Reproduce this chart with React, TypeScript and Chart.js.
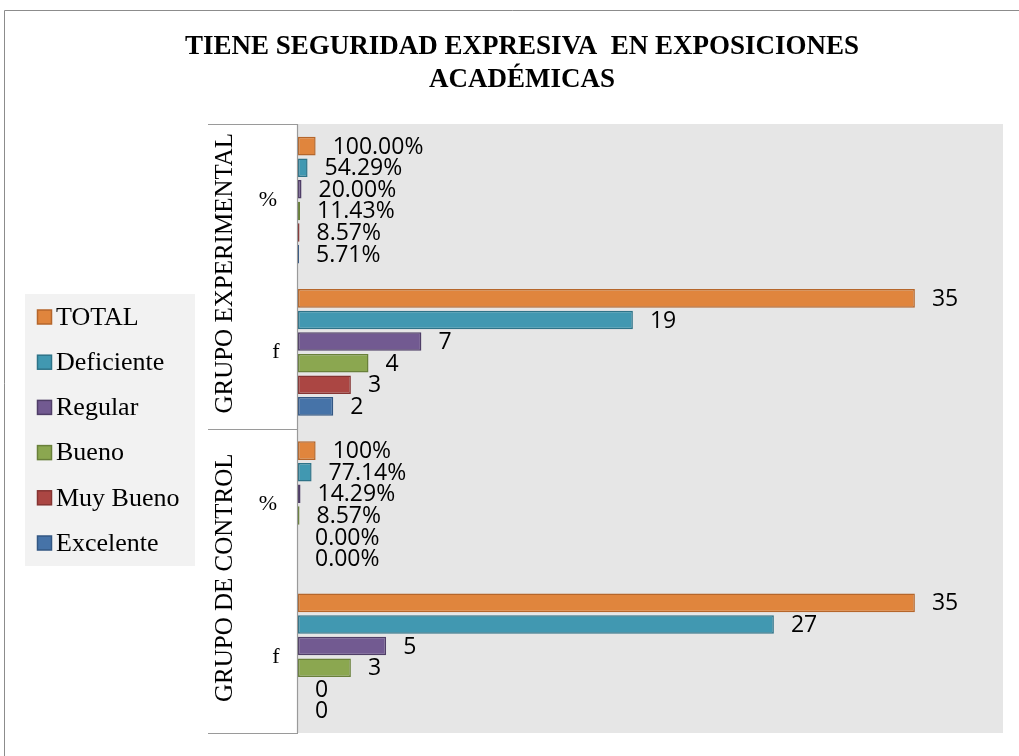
import React, { useEffect, useRef } from "react";
import { Chart, registerables } from "chart.js";

Chart.register(...registerables);

const TITLE_LINES = ["TIENE SEGURIDAD EXPRESIVA  EN EXPOSICIONES", "ACADÉMICAS"];
const GROUPS = ["GRUPO EXPERIMENTAL", "GRUPO DE CONTROL"];
const CATEGORIES = ["%", "f", "%", "f"];
const SERIES = ["TOTAL", "Deficiente", "Regular", "Bueno", "Muy Bueno", "Excelente"];

const TOTAL = [1, 35, 1, 35];
const DEFICIENTE = [0.5429, 19, 0.7714, 27];
const REGULAR = [0.2, 7, 0.1429, 5];
const BUENO = [0.1143, 4, 0.0857, 3];
const MUY_BUENO = [0.0857, 3, 0, 0];
const EXCELENTE = [0.0571, 2, 0, 0];

const TOTAL_LABELS = ["100.00%", "35", "100%", "35"];
const DEFICIENTE_LABELS = ["54.29%", "19", "77.14%", "27"];
const REGULAR_LABELS = ["20.00%", "7", "14.29%", "5"];
const BUENO_LABELS = ["11.43%", "4", "8.57%", "3"];
const MUY_BUENO_LABELS = ["8.57%", "3", "0.00%", "0"];
const EXCELENTE_LABELS = ["5.71%", "2", "0.00%", "0"];

const X_MAX = 40;

const FILLS = ["#E0853D", "#4198B1", "#725A91", "#8BA750", "#AB4643", "#4673A8"];
const BORDERS = ["#B5662B", "#2E7388", "#4F3E67", "#69803A", "#853432", "#335783"];

const VALUES = [TOTAL, DEFICIENTE, REGULAR, BUENO, MUY_BUENO, EXCELENTE];
const LABELS = [TOTAL_LABELS, DEFICIENTE_LABELS, REGULAR_LABELS, BUENO_LABELS, MUY_BUENO_LABELS, EXCELENTE_LABELS];

const SERIF = "'Liberation Serif', 'Times New Roman', serif";
const SANS = "'Open Sans', 'Liberation Sans', sans-serif";

const decorPlugin = {
  id: "decor",
  beforeDraw(chart: any) {
    const { ctx, chartArea, width, height } = chart;
    ctx.save();
    ctx.fillStyle = "#ffffff";
    ctx.fillRect(0, 0, width, height);
    ctx.strokeStyle = "#8c8c8c";
    ctx.lineWidth = 1;
    ctx.beginPath();
    ctx.moveTo(4.5, height + 2);
    ctx.lineTo(4.5, 10.5);
    ctx.lineTo(width + 2, 10.5);
    ctx.stroke();
    ctx.fillStyle = "#e6e6e6";
    ctx.fillRect(chartArea.left, chartArea.top, chartArea.right - chartArea.left, chartArea.bottom - chartArea.top);
    ctx.restore();
  },
  afterDraw(chart: any) {
    const { ctx, chartArea } = chart;
    const y = chart.scales.y;
    ctx.save();
    ctx.fillStyle = "#000";
    ctx.font = `bold 27px ${SERIF}`;
    ctx.textAlign = "center";
    ctx.textBaseline = "middle";
    TITLE_LINES.forEach((t, i) => ctx.fillText(t, 522, 47 + i * 33));

    ctx.fillStyle = "#f2f2f2";
    ctx.fillRect(25, 294, 170, 272);
    ctx.font = `26px ${SERIF}`;
    ctx.textAlign = "left";
    SERIES.forEach((name, i) => {
      const cy = 317 + i * 45.2;
      ctx.fillStyle = FILLS[i];
      ctx.fillRect(37.5, cy - 7, 14, 14);
      ctx.strokeStyle = BORDERS[i];
      ctx.lineWidth = 1.5;
      ctx.strokeRect(37.5, cy - 7, 14, 14);
      ctx.fillStyle = "#000";
      ctx.fillText(name, 56, cy + 1);
    });

    const band = (chartArea.bottom - chartArea.top) / CATEGORIES.length;
    ctx.strokeStyle = "#9a9a9a";
    ctx.lineWidth = 1.2;
    ctx.beginPath();
    ctx.moveTo(chartArea.left - 0.5, chartArea.top);
    ctx.lineTo(chartArea.left - 0.5, chartArea.bottom);
    for (let g = 0; g <= GROUPS.length; g++) {
      const yy = Math.round(chartArea.top + g * band * 2) + 0.5;
      ctx.moveTo(208, yy);
      ctx.lineTo(chartArea.left, yy);
    }
    ctx.stroke();

    ctx.fillStyle = "#000";
    ctx.font = `25px ${SERIF}`;
    ctx.textAlign = "center";
    ctx.textBaseline = "middle";
    GROUPS.forEach((g, i) => {
      const cy = (y.getPixelForValue(i * 2) + y.getPixelForValue(i * 2 + 1)) / 2;
      ctx.save();
      ctx.translate(225, cy - 3);
      ctx.rotate(-Math.PI / 2);
      ctx.fillText(g, 0, 0);
      ctx.restore();
    });
    ctx.font = `22px ${SERIF}`;
    CATEGORIES.forEach((c, i) => {
      const cy = y.getPixelForValue(i);
      ctx.fillText(c, c === "%" ? 268 : 276, cy);
    });
    ctx.restore();
  },
  afterDatasetsDraw(chart: any) {
    const { ctx } = chart;
    ctx.save();
    ctx.fillStyle = "#000";
    ctx.font = `23px ${SANS}`;
    ctx.textAlign = "left";
    ctx.textBaseline = "middle";
    chart.data.datasets.forEach((ds: any, di: number) => {
      const meta = chart.getDatasetMeta(di);
      meta.data.forEach((el: any, i: number) => {
        ctx.fillText(LABELS[di][i], el.x + 17, el.y + 1);
      });
    });
    ctx.restore();
  },
};

export default function App() {
  const ref = useRef<HTMLCanvasElement>(null);
  useEffect(() => {
    document.body.style.margin = "0";
    const canvas = ref.current!;
    const chart = new Chart(canvas, {
      type: "bar",
      data: {
        labels: CATEGORIES,
        datasets: SERIES.map((name, i) => ({
          label: name,
          data: VALUES[i],
          backgroundColor: FILLS[i],
          borderColor: BORDERS[i],
          borderWidth: 1.5,
          borderSkipped: false,
          categoryPercentage: 0.851,
          barPercentage: 0.86,
        })),
      },
      options: {
        indexAxis: "y",
        responsive: false,
        animation: false,
        layout: { padding: { left: 298, right: 16, top: 124, bottom: 23 } },
        scales: {
          x: { display: false, min: 0, max: X_MAX },
          y: { display: false },
        },
        plugins: {
          legend: { display: false },
          title: { display: false },
          tooltip: { enabled: false },
        },
      },
      plugins: [decorPlugin],
    } as any);
    return () => chart.destroy();
  }, []);
  return <canvas ref={ref} width={1019} height={756} style={{ display: "block", width: 1019, height: 756 }} />;
}
